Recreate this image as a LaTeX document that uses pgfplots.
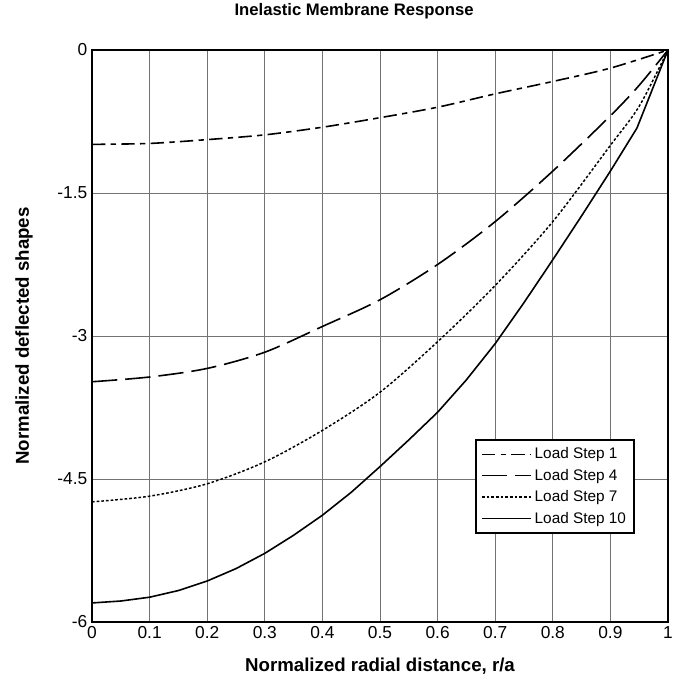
\documentclass[border=0pt]{standalone}
\usepackage{fontspec}
\setmainfont{Liberation Sans}
\usepackage{pgfplots}
\pgfplotsset{compat=1.18}

\begin{document}
\begin{tikzpicture}
\begin{axis}[
  name=ax,
  scale only axis,
  width=432pt, height=429pt,
  xmin=0, xmax=1, ymin=-6, ymax=0,
  xtick={0,0.1,0.2,0.3,0.4,0.5,0.6,0.7,0.8,0.9,1},
  xticklabels={0,0.1,0.2,0.3,0.4,0.5,0.6,0.7,0.8,0.9,1},
  ytick={-6,-4.5,-3,-1.5,0},
  yticklabels={-6,-4.5,-3,-1.5,0},
  major tick length=0pt,
  tick label style={font=\fontsize{13}{14}\selectfont},
  grid=major,
  grid style={black!55, line width=0.5pt},
  axis line style={line width=1.6pt},
  title={Inelastic Membrane Response},
  title style={font=\bfseries\fontsize{12.5}{14}\selectfont,
    at={(axis description cs:0.455,1.054)}, anchor=center},
  xlabel={Normalized radial distance, r/a},
  xlabel style={font=\bfseries\fontsize{14}{16}\selectfont,
    at={(axis description cs:0.5,-0.077)}, anchor=center},
  ylabel={Normalized deflected shapes},
  ylabel style={font=\bfseries\fontsize{14}{16}\selectfont,
    at={(axis description cs:-0.118,0.5)}, anchor=center},
  legend style={at={(0.665,0.32)}, anchor=north west, draw=black,
    line width=1.3pt, font=\fontsize{11.5}{13}\selectfont,
    inner xsep=4pt, inner ysep=4pt, row sep=2.2pt},
  legend cell align=left,
  legend image code/.code={\draw[#1, line width=1.1pt] (0pt,0pt) -- (37pt,0pt);},
]
% Load Step 1
\addplot[black, line width=1.2pt, smooth, dash pattern=on 10pt off 4pt on 4pt off 4pt]
  coordinates {(0,-0.99) (0.1,-0.98) (0.2,-0.94) (0.3,-0.89) (0.4,-0.81)
    (0.5,-0.71) (0.6,-0.60) (0.7,-0.46) (0.8,-0.33) (0.9,-0.19) (1,0)};
\addlegendentry{Load Step 1}
% Load Step 4
\addplot[black, line width=1.2pt, smooth, dash pattern=on 19pt off 6pt]
  coordinates {(0,-3.48) (0.1,-3.43) (0.2,-3.34) (0.3,-3.17) (0.4,-2.90)
    (0.5,-2.62) (0.6,-2.25) (0.7,-1.80) (0.8,-1.27) (0.9,-0.69) (0.95,-0.37) (1,0)};
\addlegendentry{Load Step 4}
% Load Step 7
\addplot[black, line width=1.1pt, smooth, dash pattern=on 2pt off 1.5pt]
  coordinates {(0,-4.74) (0.1,-4.68) (0.2,-4.55) (0.3,-4.32) (0.4,-3.99)
    (0.5,-3.59) (0.6,-3.06) (0.7,-2.47) (0.8,-1.80) (0.9,-1.00) (0.95,-0.59) (1,0)};
\addlegendentry{Load Step 7}
% Load Step 10
\addplot[black, line width=1.2pt]
  coordinates {(0,-5.80) (0.05,-5.78) (0.1,-5.74) (0.15,-5.67) (0.2,-5.57)
    (0.25,-5.44) (0.3,-5.28) (0.35,-5.09) (0.4,-4.88) (0.45,-4.64)
    (0.5,-4.37) (0.55,-4.09) (0.6,-3.80) (0.65,-3.46) (0.7,-3.08)
    (0.75,-2.65) (0.8,-2.20) (0.85,-1.74) (0.9,-1.27) (0.946,-0.82) (1,0)};
\addlegendentry{Load Step 10}
\end{axis}
\pgfresetboundingbox
\path[use as bounding box] ([shift={(-69pt,-42.75pt)}]ax.south west)
  rectangle ([shift={(3pt,37.5pt)}]ax.north east);
\end{tikzpicture}
\end{document}
